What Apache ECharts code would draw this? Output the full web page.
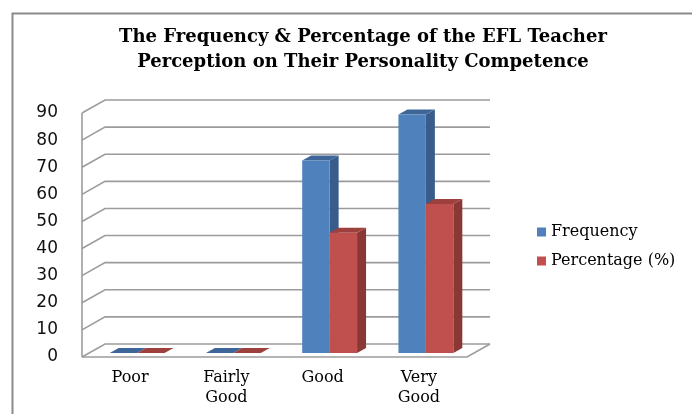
<!DOCTYPE html>
<html>
<head>
<meta charset="utf-8">
<script src="https://cdn.jsdelivr.net/npm/echarts@6/dist/echarts.min.js"></script>
<style>html,body{margin:0;padding:0;background:#fff}#c{width:692px;height:414px}</style>
</head>
<body>
<div id="c"></div>
<script>
var categories = ['Poor', 'Fairly Good', 'Good', 'Very Good'];
var frequency = [0, 0, 71, 88];
var percentage = [0, 0, 44.4, 55.0];
var yTicks = [0, 10, 20, 30, 40, 50, 60, 70, 80, 90];
var seriesNames = ['Frequency', 'Percentage (%)'];

var DX = 23, DY = -13;      // wall depth
var FX = 7, FY = -4;        // bar front face offset into depth
var BDX = 9, BDY = -5;      // bar depth
var BW = 0.285;             // bar width as share of category band
var frontCol = ['#4F81BD', '#C0504D'];
var sideCol = ['#385D8A', '#8A3836'];
var topCol = ['#3E6699', '#9E413E'];
var lineCol = '#9c9c9c';

function wallRender(params, api) {
  var cs = params.coordSys;
  var v = api.value(0);
  var y = api.coord([0, v])[1];
  var x0 = cs.x, x1 = cs.x + cs.width;
  var children = [{
    type: 'polyline',
    shape: { points: [[x0, y], [x0 + DX, y + DY], [x1 + DX, y + DY]] },
    style: { stroke: lineCol, lineWidth: 1.6, fill: null }
  }];
  if (v === 0) {
    children.push({
      type: 'polyline',
      shape: { points: [[x0, y], [x1, y], [x1 + DX, y + DY]] },
      style: { stroke: lineCol, lineWidth: 1.6, fill: null }
    });
    children.push({
      type: 'line',
      shape: { x1: x0, y1: cs.y, x2: x0, y2: y },
      style: { stroke: lineCol, lineWidth: 1.6 }
    });
  }
  return { type: 'group', children: children };
}

function barRender(idx) {
  return function (params, api) {
    var i = api.value(0), v = api.value(1);
    var base = api.coord([i, 0]);
    var top = api.coord([i, v]);
    var band = api.size([1, 0])[0];
    var w = band * BW;
    var cx = base[0] + FX;
    var xa = idx === 0 ? cx - w : cx;
    var xb = xa + w;
    var yb = base[1] + FY;
    var yt = top[1] + FY;
    return {
      type: 'group',
      children: [
        { type: 'polygon', shape: { points: [[xb, yb], [xb + BDX, yb + BDY], [xb + BDX, yt + BDY], [xb, yt]] },
          style: { fill: sideCol[idx] } },
        { type: 'polygon', shape: { points: [[xa, yt], [xb, yt], [xb + BDX, yt + BDY], [xa + BDX, yt + BDY]] },
          style: { fill: topCol[idx] } },
        { type: 'rect', shape: { x: xa, y: yt, width: w, height: yb - yt },
          style: { fill: frontCol[idx] } }
      ]
    };
  };
}

var chart = echarts.init(document.getElementById('c'), null, { renderer: 'canvas' });
chart.setOption({
  animation: false,
  backgroundColor: '#fff',
  title: {
    text: 'The Frequency & Percentage of the EFL Teacher\nPerception on Their Personality Competence',
    left: 358, top: 20, textAlign: 'center',
    textStyle: { fontFamily: 'DejaVu Serif', fontWeight: 'bold', fontSize: 18, lineHeight: 25, color: '#000' }
  },
  graphic: [{
    type: 'rect', left: 10, top: 11,
    shape: { width: 700, height: 420 },
    style: { fill: null, stroke: '#8a8a8a', lineWidth: 2 }, silent: true
  }],
  legend: {
    orient: 'vertical', left: 532, top: 219, itemGap: 13,
    itemWidth: 9, itemHeight: 9, icon: 'rect',
    data: seriesNames,
    textStyle: { fontFamily: 'DejaVu Serif', fontSize: 16, color: '#000' }
  },
  grid: { left: 82, right: 225, top: 113, bottom: 57 },
  xAxis: {
    type: 'category', data: categories,
    axisLine: { show: false }, axisTick: { show: false },
    axisLabel: {
      margin: 11, fontFamily: 'DejaVu Serif', fontSize: 16, color: '#000', lineHeight: 20,
      formatter: function (s) { return s.replace(' ', '\n'); }
    }
  },
  yAxis: {
    type: 'value', min: 0, max: 90, interval: 10,
    axisLine: { show: false }, axisTick: { show: false }, splitLine: { show: false },
    axisLabel: { margin: 24, fontFamily: 'DejaVu Sans', fontSize: 17, color: '#111' }
  },
  series: [
    { type: 'custom', name: 'walls', silent: true, z: 1, renderItem: wallRender,
      data: yTicks.map(function (t) { return [t]; }), encode: { y: 0 } },
    { type: 'custom', name: seriesNames[0], z: 3, renderItem: barRender(0),
      itemStyle: { color: frontCol[0] },
      data: frequency.map(function (v, i) { return [i, v]; }), encode: { x: 0, y: 1 } },
    { type: 'custom', name: seriesNames[1], z: 4, renderItem: barRender(1),
      itemStyle: { color: frontCol[1] },
      data: percentage.map(function (v, i) { return [i, v]; }), encode: { x: 0, y: 1 } }
  ]
});
</script>
</body>
</html>
